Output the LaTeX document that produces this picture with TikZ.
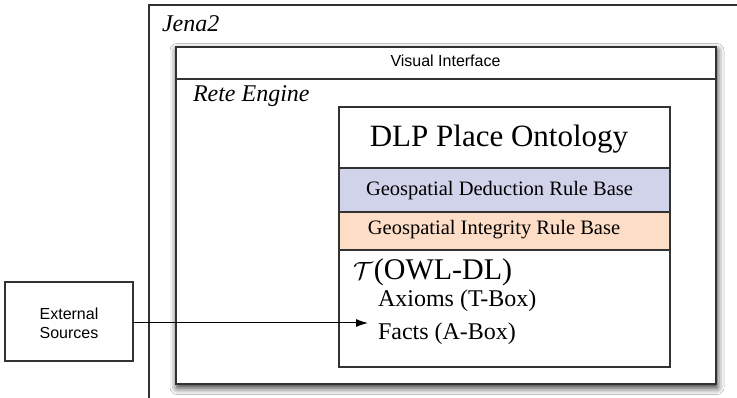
\documentclass[tikz,border=0pt]{standalone}
\usepackage{fontspec}
\setmainfont{Liberation Serif}
\setsansfont{Liberation Sans}
\usetikzlibrary{arrows.meta,shadows.blur}
\definecolor{lavender}{RGB}{209,211,234}
\definecolor{peach}{RGB}{253,221,197}
\definecolor{edge}{RGB}{50,50,50}
\tikzset{
  frame/.style={draw=edge, line width=1.4pt, fill=white, inner sep=0pt, outer sep=0pt},
  band/.style={draw=edge, line width=1.4pt, inner sep=0pt, outer sep=0pt},
  lbl/.style={inner sep=0pt, outer sep=0pt},
  conn/.style={draw=black, line width=1pt, -{Latex[length=12pt,width=8pt]}},
}
\begin{document}
\begin{tikzpicture}[x=1pt,y=-1pt]
\useasboundingbox (0,0) rectangle (737,398);
\clip (0,0) rectangle (737,398);
% Jena2 frame (extends past the picture edges)
\node[frame, anchor=north west, minimum width=620pt, minimum height=420pt] (jena) at (149,5) {};
\node[lbl, anchor=base west, font=\fontsize{24}{28}\selectfont\itshape] (jenat) at (162,32) {Jena2};
% Rete engine box with shadow
\node[frame, anchor=north west, minimum width=540pt, minimum height=337pt,
      blur shadow={shadow xshift=1pt, shadow yshift=-3.5pt, shadow blur radius=7pt, shadow opacity=85}] (rete) at (176,47) {};
\node[band, anchor=north west, minimum width=540pt, minimum height=32pt] (vis) at (176,47) {};
\node[lbl, anchor=base, font=\sffamily\fontsize{16}{19}\selectfont] (vist) at (445.5,67) {Visual Interface};
\node[lbl, anchor=base west, font=\fontsize{24}{28}\selectfont\itshape] (retet) at (193,102) {Rete Engine};
% DLP ontology box
\node[band, fill=white, anchor=north west, minimum width=331pt, minimum height=260pt] (dlp) at (339,107) {};
\node[band, fill=lavender, anchor=north west, minimum width=331pt, minimum height=44pt] (ded) at (339,168) {};
\node[band, fill=peach, anchor=north west, minimum width=331pt, minimum height=38pt] (integ) at (339,212) {};
\draw[edge, line width=1.4pt] (dlp.north west) rectangle (dlp.south east);
\node[lbl, anchor=base, font=\fontsize{31}{36}\selectfont] (dlpt) at (499,147) {DLP Place Ontology};
\node[lbl, anchor=base, font=\fontsize{20.5}{24}\selectfont] (dedt) at (499.5,196) {Geospatial Deduction Rule Base};
\node[lbl, anchor=base, font=\fontsize{20.5}{24}\selectfont] (integt) at (494,235) {Geospatial Integrity Rule Base};
\node[lbl, anchor=base west, font=\fontsize{30}{34}\selectfont] (owl) at (353,280) {$\mathcal{T}$\kern1pt(OWL-DL)};
\node[lbl, anchor=base west, font=\fontsize{24}{28}\selectfont] (ax) at (378,307) {Axioms (T-Box)};
\node[lbl, anchor=base west, font=\fontsize{24}{28}\selectfont] (fa) at (378,340) {Facts (A-Box)};
% External sources
\node[frame, anchor=north west, minimum width=128pt, minimum height=79pt] (ext) at (5,282) {};
\node[lbl, align=center, font=\sffamily\fontsize{16}{19}\selectfont] (extt) at (69,323) {External\\Sources};
\coordinate (tip) at (368,323);
\draw[conn] (ext.east |- tip) -- (tip);
\end{tikzpicture}
\end{document}
